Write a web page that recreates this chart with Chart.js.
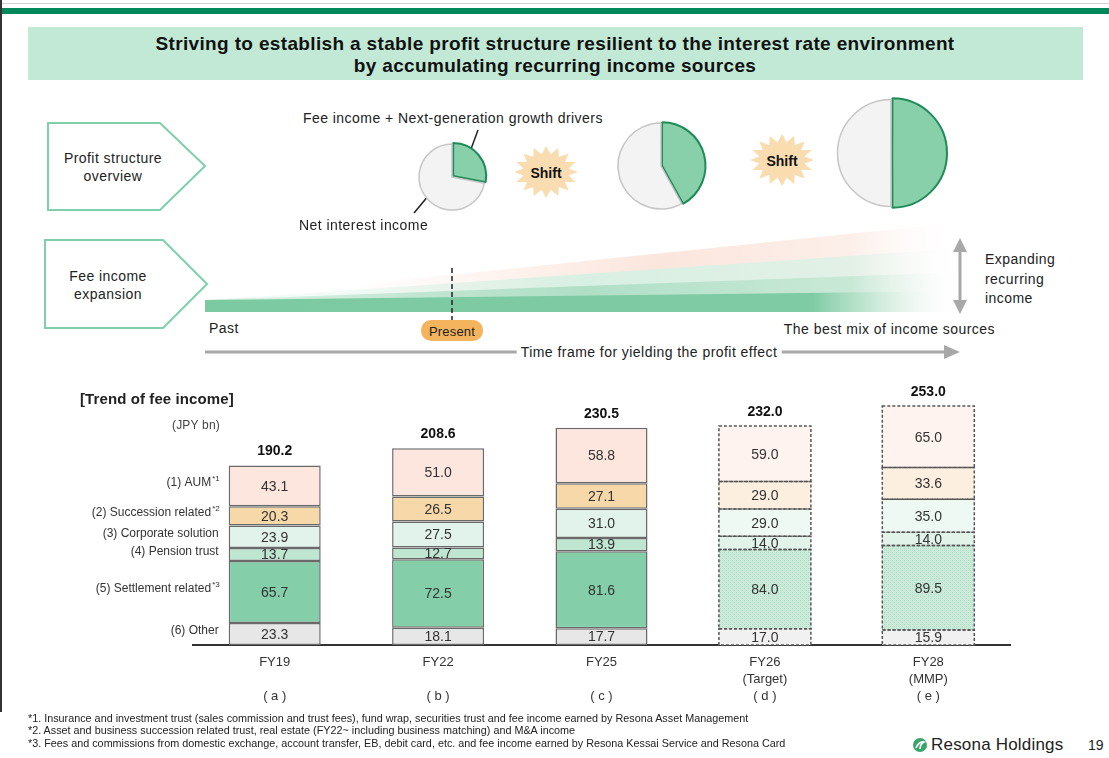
<!DOCTYPE html>
<html><head><meta charset="utf-8">
<script src="https://cdn.jsdelivr.net/npm/chart.js@4.4.0/dist/chart.umd.min.js"></script>
<style>
body{margin:0;background:#fff;}
#page{position:relative;width:1109px;height:758px;overflow:hidden;font-family:"Liberation Sans",Arial,sans-serif;color:#222;}
.t{position:absolute;white-space:nowrap;}
canvas{position:absolute;}
svg{position:absolute;left:0;top:0;}
</style></head><body><div id="page">
<svg id="deco" width="1109" height="758"></svg>
<canvas id="bar" width="1109" height="340" style="left:0;top:380px"></canvas>
<canvas id="pie1" width="100" height="100" style="left:402px;top:127px"></canvas>
<canvas id="pie2" width="110" height="110" style="left:606px;top:111px"></canvas>
<canvas id="pie3" width="130" height="130" style="left:826px;top:88px"></canvas>
</div>
<script>
// ---------------- DATA ----------------
const categories = ['FY19','FY22','FY25','FY26','FY28'];
const subLabels  = ['','','','(Target)','(MMP)'];
const letters    = ['( a )','( b )','( c )','( d )','( e )'];
const isPlan     = [false,false,false,true,true];
const totals     = [190.2,208.6,230.5,232.0,253.0];
// stacked bottom -> top
const other       = [23.3,18.1,17.7,17.0,15.9];
const settlement  = [65.7,72.5,81.6,84.0,89.5];
const pension     = [13.7,12.7,13.9,14.0,14.0];
const corporate   = [23.9,27.5,31.0,29.0,35.0];
const succession  = [20.3,26.5,27.1,29.0,33.6];
const aum         = [43.1,51.0,58.8,59.0,65.0];
const seriesNames = ['(6) Other','(5) Settlement related','(4) Pension trust','(3) Corporate solution','(2) Succession related','(1) AUM'];
const seriesNotes = ['','*3','','','*2','*1'];
// pie shares: [fee income + next-gen, net interest income]
const pieNow  = [28,72];
const pieMid  = [42,58];
const pieGoal = [50,50];

// ---------------- DECORATION (SVG) ----------------
const NS='http://www.w3.org/2000/svg';
const svg=document.getElementById('deco');
function el(tag,attrs){const e=document.createElementNS(NS,tag);for(const k in attrs)e.setAttribute(k,attrs[k]);svg.appendChild(e);return e;}
const page=document.getElementById('page');
function txt(s,x,y,o={}){const d=document.createElement('div');d.className='t';d.textContent=s;
 d.style.left=x+'px';d.style.top=y+'px';d.style.fontSize=(o.size||14)+'px';
 if(o.bold)d.style.fontWeight='bold'; d.style.color=o.color||'#222';
 if(o.bg){d.style.background=o.bg;d.style.padding='0 4px';}
 const ax=o.align==='center'?'-50%':(o.align==='right'?'-100%':'0');
 d.style.transform='translate('+ax+',-50%)'; d.style.letterSpacing=(o.ls!==undefined?o.ls:'0.45px');
 page.appendChild(d);return d;}

svg.innerHTML=`<defs>
<linearGradient id="gPink" gradientUnits="userSpaceOnUse" x1="205" y1="0" x2="965" y2="0">
 <stop offset="0.2" stop-color="#fbe3d9" stop-opacity="0"/><stop offset="0.6" stop-color="#fbe3d9" stop-opacity="0.9"/><stop offset="0.85" stop-color="#fbe8e0" stop-opacity="0.7"/><stop offset="1" stop-color="#fff" stop-opacity="0"/></linearGradient>
<linearGradient id="gMint" gradientUnits="userSpaceOnUse" x1="205" y1="0" x2="965" y2="0">
 <stop offset="0.15" stop-color="#dcf1e6" stop-opacity="0.3"/><stop offset="0.5" stop-color="#d8f0e3" stop-opacity="1"/><stop offset="0.85" stop-color="#dcf1e6" stop-opacity="0.8"/><stop offset="1" stop-color="#fff" stop-opacity="0"/></linearGradient>
<linearGradient id="gLight" gradientUnits="userSpaceOnUse" x1="205" y1="0" x2="965" y2="0">
 <stop offset="0.1" stop-color="#b4e1c9" stop-opacity="0.5"/><stop offset="0.5" stop-color="#b0dfc6" stop-opacity="1"/><stop offset="0.85" stop-color="#bde5cf" stop-opacity="0.7"/><stop offset="1" stop-color="#fff" stop-opacity="0"/></linearGradient>
<linearGradient id="gDark" gradientUnits="userSpaceOnUse" x1="205" y1="0" x2="965" y2="0">
 <stop offset="0" stop-color="#7ccaa2"/><stop offset="0.8" stop-color="#7fcba4"/><stop offset="0.97" stop-color="#fff" stop-opacity="0"/></linearGradient>
</defs>`;
el('rect',{x:0,y:3,width:1109,height:1,fill:'#d0d0d0'});
el('rect',{x:0,y:8,width:1109,height:6,fill:'#00875a'});
el('rect',{x:0,y:0,width:2,height:712,fill:'#333'});
el('rect',{x:28,y:27,width:1055,height:53,fill:'#c2e9d6'});
el('polygon',{points:'48,123 160,123 205,166 160,210 48,210',fill:'#fff',stroke:'#7fcfaa','stroke-width':2});
el('polygon',{points:'45,240 163,240 207,284 163,328 45,328',fill:'#fff',stroke:'#7fcfaa','stroke-width':2});
function star(cx,cy,rx,ry,irx,iry,n){let p=[];for(let i=0;i<2*n;i++){const a=Math.PI*i/n-Math.PI/2;const o=i%2===0;p.push((cx+Math.cos(a)*(o?rx:irx)).toFixed(1)+','+(cy+Math.sin(a)*(o?ry:iry)).toFixed(1));}return p.join(' ');}
el('polygon',{points:star(546,172,32,26,23,18,16),fill:'#f9ddb1'});
el('polygon',{points:star(782,160,32,26,23,18,16),fill:'#f9ddb1'});
// expansion wedge
el('polygon',{points:'205,300 965,222 965,312 205,312',fill:'url(#gPink)'});
el('polygon',{points:'205,300 965,248 965,312 205,312',fill:'url(#gMint)'});
el('polygon',{points:'205,300 965,272 965,312 205,312',fill:'url(#gLight)'});
el('polygon',{points:'205,300 965,291 965,312 205,312',fill:'url(#gDark)'});
el('line',{x1:452,y1:268,x2:452,y2:320,stroke:'#222','stroke-width':1.5,'stroke-dasharray':'5,3'});
el('rect',{x:421,y:320,width:62,height:21,rx:10,fill:'#f4b35d'});
// time arrow
el('line',{x1:205,y1:352,x2:948,y2:352,stroke:'#a8a8a8','stroke-width':3});
el('polygon',{points:'944,345 960,352 944,359',fill:'#a8a8a8'});
// vertical arrow
el('line',{x1:960,y1:250,x2:960,y2:302,stroke:'#a8a8a8','stroke-width':3});
el('polygon',{points:'953,252 960,238 967,252',fill:'#a8a8a8'});
el('polygon',{points:'953,300 960,314 967,300',fill:'#a8a8a8'});
// leader lines
el('line',{x1:478,y1:130,x2:467,y2:160,stroke:'#222','stroke-width':1.5});
el('line',{x1:414,y1:213,x2:434,y2:189,stroke:'#222','stroke-width':1.5});
// logo
el('circle',{cx:920,cy:745,r:7,fill:'#3aa56a'});
el('path',{d:'M916,748 q3,-7 8,-6 q-4,2 -4,7',fill:'none',stroke:'#fff','stroke-width':1.6});

// texts
txt('Striving to establish a stable profit structure resilient to the interest rate environment',555,44,{size:19,bold:true,align:'center',color:'#111',ls:'0.35px'});
txt('by accumulating recurring income sources',555,66,{size:19,bold:true,align:'center',color:'#111',ls:'0.35px'});
txt('Profit structure',113,158,{align:'center'});
txt('overview',113,176,{align:'center'});
txt('Fee income',108,276,{align:'center'});
txt('expansion',108,294,{align:'center'});
txt('Fee income + Next-generation growth drivers',303,118);
txt('Net interest income',299,225);
txt('Shift',546,173,{bold:true,align:'center',color:'#111',ls:'0'});
txt('Shift',782,161,{bold:true,align:'center',color:'#111',ls:'0'});
txt('Expanding',985,259);
txt('recurring',985,279);
txt('income',985,298);
txt('Past',209,328);
txt('Present',452,331,{size:13,align:'center',ls:'0.2px'});
txt('The best mix of income sources',995,329,{align:'right'});
txt('Time frame for yielding the profit effect',649,352,{align:'center',bg:'#fff'});
txt('[Trend of fee income]',80,398,{size:15,bold:true,ls:'0.1px'});
txt('(JPY bn)',196,425,{size:12,align:'center',color:'#444',ls:'0.2px'});
const fn={size:10.8,ls:'0px',color:'#222'};
txt('*1. Insurance and investment trust (sales commission and trust fees), fund wrap, securities trust and fee income earned by Resona Asset Management',28,718,fn);
txt('*2. Asset and business succession related trust, real estate (FY22~ including business matching) and M&A income',28,730,fn);
txt('*3. Fees and commissions from domestic exchange, account transfer, EB, debit card, etc. and fee income earned by Resona Kessai Service and Resona Card',28,743,fn);
txt('Resona Holdings',931,745,{size:17,ls:'0.2px'});
txt('19',1088,745,{size:14,ls:'0'});

// ---------------- PIES ----------------
function pie(id,vals,pad,off){
 new Chart(document.getElementById(id),{type:'pie',
  data:{labels:['Fee income + Next-generation growth drivers','Net interest income'],
   datasets:[{data:vals,backgroundColor:['#88d0aa','#f3f3f3'],borderColor:['#1f8b58','#c6c6c6'],borderWidth:[2,1.5],offset:[off,0]}]},
  options:{responsive:false,animation:false,events:[],layout:{padding:pad},plugins:{legend:{display:false},tooltip:{enabled:false}}}});
}
pie('pie1',pieNow,13,6);
pie('pie2',pieMid,9,4);
pie('pie3',pieGoal,8,5);

// ---------------- BAR CHART ----------------
const bctx=document.getElementById('bar').getContext('2d');
function hatch(){const c=document.createElement('canvas');c.width=4;c.height=4;const g=c.getContext('2d');
 g.fillStyle='#cdebdb';g.fillRect(0,0,4,4);g.fillStyle='#a7d9bf';g.fillRect(0,0,1,1);g.fillRect(2,2,1,1);g.fillStyle='#bfe4d0';g.fillRect(2,0,1,1);g.fillRect(0,2,1,1);
 return bctx.createPattern(c,'repeat');}
const pat=hatch();
const actualColors=['#e7e7e7','#84cfa9','#bfe6d1','#e1f3ea','#f7d9a9','#fde6de'];
const planColors  =['#f1f1f1',pat,'#e2f3ea','#eff9f4','#fcefdf','#fef3ef'];
const seriesData=[other,settlement,pension,corporate,succession,aum];
const datasets=seriesData.map((d,i)=>({label:seriesNames[i],data:d,
 backgroundColor:c=>isPlan[c.dataIndex]?planColors[i]:actualColors[i],
 borderColor:'#6a6a6a',borderWidth:c=>isPlan[c.dataIndex]?0:1.5,borderSkipped:false,
 barPercentage:0.563,categoryPercentage:1}));

const FONT='"Liberation Sans", Arial';
const annot={id:'annot',afterDatasetsDraw(chart){
 const ctx=chart.ctx;ctx.save();
 chart.data.datasets.forEach((ds,di)=>{
  const meta=chart.getDatasetMeta(di);
  meta.data.forEach((b,i)=>{
   const p=b.getProps(['x','y','base','width'],true);
   if(isPlan[i]){ctx.save();ctx.setLineDash([3,2]);ctx.strokeStyle='#555';ctx.lineWidth=1.5;
     ctx.strokeRect(p.x-p.width/2,p.y,p.width,p.base-p.y);ctx.restore();}
   ctx.fillStyle='#333';ctx.font='14px '+FONT;ctx.textAlign='center';ctx.textBaseline='middle';
   ctx.fillText(ds.data[i].toFixed(1),p.x,(p.y+p.base)/2+1);
   if(i===0){ // series label left of first bar
     const lx=p.x-p.width/2-9, ly=(p.y+p.base)/2-3;
     ctx.textAlign='right';ctx.fillStyle='#333';
     ctx.font='8px '+FONT;const nw=seriesNotes[di]?ctx.measureText(seriesNotes[di]).width:0;
     if(nw)ctx.fillText(seriesNotes[di],lx,ly-4);
     ctx.font='12px '+FONT;ctx.fillText(ds.label,lx-nw-1,ly);
   }
  });
 });
 const top=chart.getDatasetMeta(chart.data.datasets.length-1);
 top.data.forEach((b,i)=>{const p=b.getProps(['x','y'],true);
  ctx.fillStyle='#111';ctx.font='bold 14px '+FONT;ctx.textAlign='center';ctx.textBaseline='middle';
  ctx.fillText(totals[i].toFixed(1),p.x,p.y-14);});
 ctx.restore();}};

new Chart(bctx,{type:'bar',
 data:{labels:categories.map((c,i)=>[c,subLabels[i],letters[i]]),datasets},
 options:{responsive:false,animation:false,events:[],
  layout:{padding:{left:193,right:99,top:10,bottom:6}},
  plugins:{legend:{display:false},tooltip:{enabled:false}},
  scales:{
   x:{stacked:true,grid:{display:false,drawTicks:false},border:{display:true,color:'#333',width:2},
      ticks:{color:'#333',font:{size:13,family:FONT,lineHeight:1.31},padding:9,maxRotation:0}},
   y:{stacked:true,display:false,min:0,max:270}
  }},
 plugins:[annot]});
</script></body></html>
